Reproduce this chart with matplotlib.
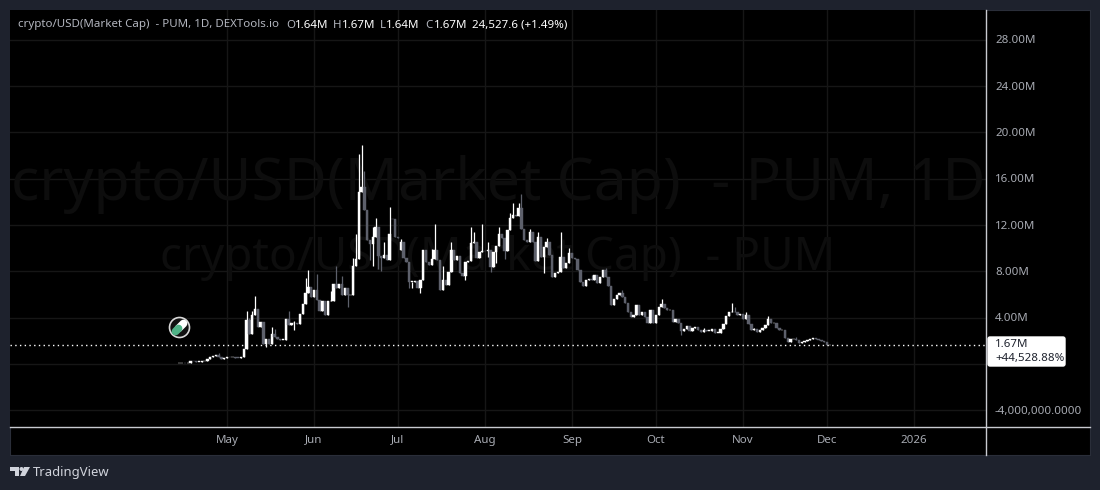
import matplotlib
matplotlib.use("Agg")
import matplotlib.pyplot as plt
import matplotlib.dates as mdates
from matplotlib.patches import Circle, FancyBboxPatch, Polygon
import pandas as pd

plt.rcParams["font.family"] = ["Noto Sans", "DejaVu Sans"]

start_date = "2025-04-14"

# daily closes in millions
closes_apr = [0.05, 0.06, 0.05, 0.06, 0.25, 0.22, 0.2, 0.2, 0.22, 0.3, 0.4, 0.62, 0.72, 0.78, 0.6, 0.42, 0.5]
closes_may = [0.62, 0.58, 0.6, 0.56, 0.55, 0.58, 1.3, 3.8, 2.6, 4.2, 4.78, 3.2, 3.6, 1.76, 2.2, 1.76, 2.6, 2.3, 2.2, 2.1,
              2.1, 3.85, 3.35, 3.5, 3.55, 3.45, 4.35, 5.2, 6.1, 6.65, 5.8]
closes_jun = [6.4, 5.5, 4.6, 5.4, 4.2, 5.4, 5.4, 6.95, 6.6, 6.9, 5.95, 6.6, 5.95, 5.95, 8.5, 9.1, 14.9, 15.3, 13.3, 10.7,
              10.4, 11.0, 11.8, 9.3, 9.2, 9.4, 9.0, 11.2, 12.5, 11.0]
closes_jul = [10.9, 10.57, 9.13, 8.84, 7.11, 7.11, 7.13, 6.53, 7.25, 9.85, 8.84, 8.55, 9.04, 9.85, 8.98, 6.39, 7.25, 6.82,
              7.97, 9.85, 9.0, 9.33, 7.83, 7.6, 8.84, 8.9, 10.42, 10.57, 9.13, 9.7, 9.79]
closes_aug = [9.78, 9.85, 8.41, 9.7, 10.19, 11.23, 10.86, 9.79, 11.58, 12.59, 12.87, 12.79, 13.45, 11.63, 10.71, 10.57,
              11.43, 10.57, 8.93, 11.0, 9.27, 10.14, 10.57, 9.42, 7.54, 7.83, 7.97, 9.21, 8.26, 8.7, 9.56]
closes_sep = [9.13, 9.04, 8.12, 7.11, 6.74, 7.25, 7.34, 7.25, 7.69, 7.02, 7.54, 8.12, 7.49, 6.74, 5.09, 5.58, 5.96, 6.1,
              5.82, 5.3, 4.52, 4.03, 4.23, 5.1, 4.23, 4.46, 4.03, 3.57, 4.67, 3.57]
closes_oct = [4.23, 4.95, 5.19, 4.81, 4.67, 4.67, 3.66, 3.86, 3.51, 2.88, 3.0, 3.28, 2.88, 3.08, 3.17, 2.94, 2.79, 2.94,
              2.88, 2.88, 3.0, 2.71, 2.71, 3.02, 3.46, 4.18, 4.46, 4.52, 4.46, 4.23, 4.32]
closes_nov = [3.86, 4.23, 3.46, 2.94, 3.02, 2.79, 2.94, 3.08, 3.37, 3.86, 3.51, 3.51, 3.08, 2.94, 2.94, 2.22, 1.87, 2.16,
              2.16, 2.07, 1.78, 1.87, 2.02, 2.07, 2.13, 2.22, 2.13, 2.05, 2.02, 1.93]
closes_dec = [1.64, 1.67]
closes = closes_apr + closes_may + closes_jun + closes_jul + closes_aug + closes_sep + closes_oct + closes_nov + closes_dec

# opens follow the previous close except on these gap days
open_gaps = {"2025-06-29": 12.56, "2025-07-02": 9.85}

high_wicks = {"2025-04-28": 0.95, "2025-05-08": 4.6, "2025-05-09": 4.0, "2025-05-10": 4.6, "2025-05-11": 5.85,
              "2025-05-17": 3.2, "2025-05-18": 3.0, "2025-05-23": 4.6, "2025-05-25": 3.7, "2025-05-29": 7.4,
              "2025-05-30": 8.1, "2025-06-02": 7.8, "2025-06-07": 6.3, "2025-06-09": 8.5, "2025-06-11": 7.6,
              "2025-06-15": 9.2, "2025-06-16": 11.2, "2025-06-17": 18.1, "2025-06-18": 18.9, "2025-06-19": 16.7,
              "2025-06-22": 11.8, "2025-06-23": 12.6, "2025-06-26": 10.5, "2025-06-28": 13.6, "2025-07-02": 10.8,
              "2025-07-13": 9.9, "2025-07-14": 12.1, "2025-07-17": 8.5, "2025-07-20": 10.57, "2025-07-27": 11.87,
              "2025-07-28": 11.43, "2025-07-31": 12.1, "2025-08-02": 10.57, "2025-08-06": 11.87, "2025-08-10": 13.08,
              "2025-08-11": 13.88, "2025-08-13": 13.88, "2025-08-14": 14.69, "2025-08-17": 11.63, "2025-08-20": 11.43,
              "2025-08-23": 10.86, "2025-08-28": 11.43, "2025-08-31": 10.0, "2025-09-08": 7.69, "2025-09-13": 8.26,
              "2025-09-19": 6.4, "2025-10-03": 5.59, "2025-10-18": 3.11, "2025-10-28": 5.24, "2025-10-29": 4.95,
              "2025-11-02": 4.46, "2025-11-05": 3.14, "2025-11-10": 4.15, "2025-11-20": 2.36}
low_wicks = {"2025-05-15": 1.5, "2025-05-25": 2.9, "2025-06-13": 4.9, "2025-06-21": 9.0, "2025-06-22": 8.5,
             "2025-06-24": 8.2, "2025-06-25": 8.0, "2025-07-05": 6.53, "2025-07-06": 6.53, "2025-07-09": 6.16,
             "2025-07-25": 7.25, "2025-08-02": 9.27, "2025-08-03": 7.97, "2025-08-05": 8.7, "2025-08-08": 9.04,
             "2025-08-22": 7.83, "2025-10-10": 2.5}

value_ticks = [28, 24, 20, 16, 12, 8, 4, 0, -4]
value_labels = ["28.00M", "24.00M", "20.00M", "16.00M", "12.00M", "8.00M", "4.00M", "", "-4,000,000.0000"]
month_ticks = ["2025-05-01", "2025-06-01", "2025-07-01", "2025-08-01", "2025-09-01", "2025-10-01", "2025-11-01",
               "2025-12-01", "2026-01-01"]
month_labels = ["May", "Jun", "Jul", "Aug", "Sep", "Oct", "Nov", "Dec", "2026"]
last_price = 1.67

W, H = 1100, 490
fig = plt.figure(figsize=(W / 100, H / 100), dpi=100, facecolor="#1e222d")
# overlay in image pixels for the chrome around the chart
ov = fig.add_axes([0, 0, 1, 1], zorder=5)
ov.set_xlim(0, W)
ov.set_ylim(H, 0)
ov.axis("off")
ov.patch.set_alpha(0)

ax = fig.add_axes([10 / W, 1 - 427 / H, 976 / W, 417 / H], zorder=2)
ax.set_facecolor("black")
bottom = fig.add_axes([10 / W, 1 - 455 / H, 1080 / W, 445 / H], zorder=1)
bottom.set_facecolor("black")
bottom.set_xticks([])
bottom.set_yticks([])
for s in bottom.spines.values():
    s.set_color("#2a2e39")

# pixel calibration of the two scales
px_per_day = (914 - 227) / 245
may_num = mdates.date2num(pd.Timestamp("2025-05-01"))
ax.set_xlim(may_num - (227 - 10) / px_per_day, may_num + (986 - 227) / px_per_day)
ax.set_ylim((364 - 427) / 11.575, (364 - 10) / 11.575)
ax.set_xticks([])
ax.set_yticks([])
for s in ax.spines.values():
    s.set_visible(False)

for v in value_ticks:
    ax.axhline(v, color="#161616", lw=1, zorder=1)
for m in month_ticks:
    ax.axvline(mdates.date2num(pd.Timestamp(m)), color="#161616", lw=1, zorder=1)

ax.text(0.5, 0.581, "crypto/USD(Market Cap)  - PUM, 1D", transform=ax.transAxes, ha="center", va="center",
        fontsize=42.4, color="#0d0d0d", zorder=1, clip_on=True)
ax.text(0.5, 0.406, "crypto/USD(Market Cap)  - PUM", transform=ax.transAxes, ha="center", va="center",
        fontsize=33, color="#0d0d0d", zorder=1, clip_on=True)

dates = pd.date_range(start_date, periods=len(closes))
for i, d in enumerate(dates):
    key = d.strftime("%Y-%m-%d")
    c = closes[i]
    o = open_gaps.get(key, closes[i - 1] if i else c)
    col = "white" if c >= o else "#5d606b"
    x = mdates.date2num(d)
    hi = max(high_wicks.get(key, max(o, c)), o, c)
    lo = min(low_wicks.get(key, min(o, c)), o, c)
    ax.vlines(x, lo, hi, color=col, lw=0.9, zorder=3)
    ax.bar(x, max(abs(c - o), 0.02), bottom=min(o, c), width=0.85, color=col, edgecolor=col, lw=0.3, zorder=3)

ax.axhline(last_price, color="white", lw=1.0, ls=(0, (1, 2.4)), zorder=4)

# axis lines
ov.plot([10, 1090], [427, 427], color="#c8cad0", lw=1)
ov.plot([986, 986], [10, 455], color="#c8cad0", lw=1)

tick_col = "#a8abb3"
for v, lab in zip(value_ticks, value_labels):
    if lab:
        ov.text(995, 365 - v * 11.575, lab, color=tick_col, fontsize=8.3, va="center", ha="left")
for m, lab in zip(month_ticks, month_labels):
    x = 227 + (mdates.date2num(pd.Timestamp(m)) - may_num) * px_per_day
    ov.text(x, 440, lab, color=tick_col, fontsize=8.3, va="center", ha="center",
            fontweight="bold" if lab == "2026" else "normal")

# legend line on top
ov.text(18, 25, "crypto/USD(Market Cap)  - PUM, 1D, DEXTools.io", color="#b2b5be", fontsize=8.3, va="center")
legend_x = [286, 333, 380, 425]
legend_keys = ["O", "H", "L", "C"]
legend_vals = ["1.64M", "1.67M", "1.64M", "1.67M"]
for x, k, val in zip(legend_x, legend_keys, legend_vals):
    ov.text(x, 25, k, color="#b2b5be", fontsize=8.3, va="center")
    ov.text(x + (6 if k == "L" else 9), 25, val, color="white", fontsize=8.3, va="center", fontweight="bold")
ov.text(472, 25, "24,527.6 (+1.49%)", color="white", fontsize=8.3, va="center", fontweight="bold")

# last price label
ov.add_patch(FancyBboxPatch((988, 337), 77, 29, boxstyle="round,pad=0,rounding_size=2", fc="white", ec="white", lw=1))
ov.text(995, 344.5, "1.67M", color="#1e222d", fontsize=8.3, va="center")
ov.text(995, 358.5, "+44,528.88%", color="#1e222d", fontsize=8.3, va="center")

# pill icon
ov.add_patch(Circle((179.5, 327.5), 10, fc="#111", ec="#d8d8d8", lw=1.2))
ov.plot([178.5, 183.5], [328.5, 323.5], color="white", lw=5.6, solid_capstyle="round")
ov.plot([175.5, 178.5], [331.5, 328.5], color="#4fb286", lw=5.6, solid_capstyle="round")

# TradingView logo
ov.add_patch(Polygon([(10, 467), (19, 467), (19, 476), (15, 476), (15, 471), (10, 471)], fc="#d1d4dc", ec="none"))
ov.add_patch(Circle((21.5, 469), 2, fc="#d1d4dc", ec="none"))
ov.add_patch(Polygon([(24, 467), (30, 467), (25, 476), (20, 476)], fc="#d1d4dc", ec="none"))
ov.text(33, 472.5, "TradingView", color="#d1d4dc", fontsize=9.4, va="center")

fig.savefig("out.png", dpi=100, facecolor=fig.get_facecolor())
